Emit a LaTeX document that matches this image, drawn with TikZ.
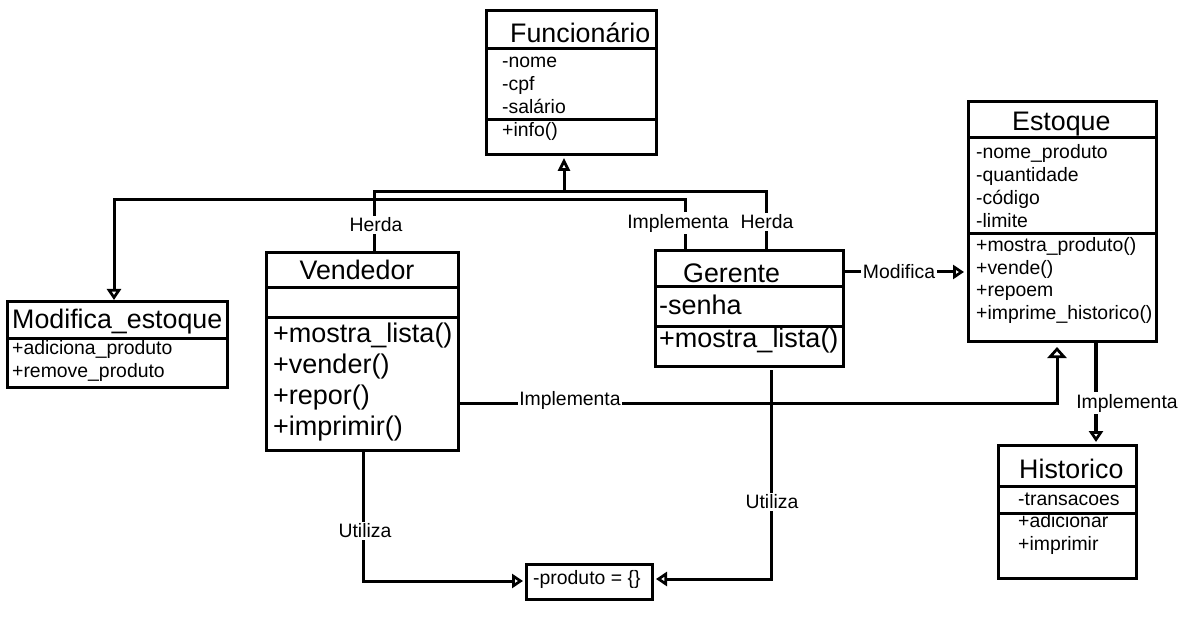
\documentclass[tikz,border=0pt]{standalone}
\usepackage{fontspec}
\setmainfont{Liberation Sans}
\usetikzlibrary{arrows.meta,calc}
\newcommand\fsm{\fontsize{19.4}{22.7}\selectfont}
\newcommand\fbg{\fontsize{27}{31.7}\selectfont}
\newcommand\fti{\fontsize{26.8}{31}\selectfont}
\tikzset{
 opentri/.tip={Triangle[open,length=11pt,width=14pt,line width=2.8pt]},
 opentriw/.tip={Triangle[open,length=11pt,width=19pt,line width=2.8pt]},
 opentrit/.tip={Triangle[open,length=13pt,width=12pt,line width=2.8pt]},
}
\begin{document}
\begin{tikzpicture}[x=1pt,y=-1pt,
 box/.style={draw,line width=3pt,inner sep=0pt,outer sep=0pt,rectangle},
 div/.style={line width=3pt},
 sm/.style={anchor=base west,inner sep=0pt,font=\fsm},
 bg/.style={anchor=base west,inner sep=0pt,font=\fbg},
 ti/.style={anchor=base west,inner sep=0pt,font=\fti},
 conn/.style={line width=3pt},
 lbl/.style={fill=white,inner sep=1.5pt,font=\fsm}]
\useasboundingbox[fill=white] (0,0) rectangle (1186,620);

% ---------- class boxes ----------
\node[box,minimum width=170pt,minimum height=144pt] (func) at (571,83) {};
\node[box,minimum width=220pt,minimum height=85pt] (modest) at (117,344.5) {};
\node[box,minimum width=192pt,minimum height=197pt] (vend) at (362,351.5) {};
\node[box,minimum width=188pt,minimum height=115pt] (ger) at (749,308.5) {};
\node[box,minimum width=188pt,minimum height=239pt] (est) at (1062,221.5) {};
\node[box,minimum width=138pt,minimum height=133pt] (hist) at (1067,511.5) {};
\node[box,minimum width=126pt,minimum height=35pt] (prod) at (589,581.5) {};

% ---------- dividers ----------
\foreach \n/\d in {func/38,func/109,modest/36,vend/35,vend/65,ger/36,ger/76,est/36,est/132,hist/41,hist/68}
  \draw[div] ($(\n.north west)+(0,\d)$) -- ($(\n.north east)+(0,\d)$);

% ---------- texts ----------
\node[ti] (tfunc) at (510,43) {Funcionário};
\foreach \t [count=\i] in {-nome,-cpf,-salário}
  \node[sm] (afunc\i) at (502,{68+23*(\i-1)}) {\t};
\node[sm] (mfunc1) at (502,137) {+info()};

\node[ti] (tmodest) at (12,328) {Modifica\_estoque};
\node[sm] (mmodest1) at (12,354) {+adiciona\_produto};
\node[sm] (mmodest2) at (12,377) {+remove\_produto};

\node[ti,anchor=base] (tvend) at (357,280) {Vendedor};
\foreach \t [count=\i] in {+mostra\_lista(),+vender(),+repor(),+imprimir()}
  \node[bg] (mvend\i) at (273,{342+31*(\i-1)}) {\t};

\node[ti] (tger) at (683,283) {Gerente};
\node[bg] (ager1) at (659,315) {-senha};
\node[bg] (mger1) at (659,348) {+mostra\_lista()};

\node[ti] (test) at (1012,131) {Estoque};
\foreach \t [count=\i] in {-nome\_produto,-quantidade,-código,-limite}
  \node[sm] (aest\i) at (976,{159+23*(\i-1)}) {\t};
\foreach \t [count=\i] in {+mostra\_produto(),+vende(),+repoem,+imprime\_historico()}
  \node[sm] (mest\i) at (976,{252+22.5*(\i-1)}) {\t};

\node[ti] (thist) at (1019,478) {Historico};
\node[sm] (ahist1) at (1018,505) {-transacoes};
\node[sm] (mhist1) at (1018,527) {+adicionar};
\node[sm] (mhist2) at (1018,550) {+imprimir};

\node[sm] (tprod) at (533,584) {-produto = \{\}};

% ---------- connectors ----------
\coordinate (hL) at (374,192);
\coordinate (hR) at (766,192);
\coordinate (hM) at (564,192);
\draw[conn,line join=miter] (vend.north -| hL) -- (hL) -- (hR) -- (ger.north -| hR);
\draw[conn,-{opentrit}] (hM) -- ([yshift=-3pt]func.south -| hM);

\coordinate (iR) at (685,200);
\coordinate (iL) at (114,200);
\draw[conn,-{opentri}] (ger.north -| iR) -- (iR) -- (iL) -- ([yshift=2pt]modest.north -| iL);

\coordinate (mT) at (964,272);
\draw[conn,-{opentri}] (ger.east |- mT) -- (mT);

\coordinate (imR) at (1057,403);
\draw[conn,-{opentriw}] (vend.east |- imR) -- (imR) -- ([yshift=-6pt]est.south -| imR);

\coordinate (eh) at (1096,400);
\draw[line width=4pt,-{opentri}] (est.south -| eh) -- ([yshift=3pt]hist.north -| eh);

\coordinate (uL) at (363,581);
\draw[conn,-{opentri}] (vend.south -| uL) -- (uL) -- ([xshift=-3pt]prod.west |- uL);

\coordinate (uR) at (771,579);
\draw[conn,-{opentri}] ([yshift=-4pt]ger.south -| uR) -- (uR) -- ([xshift=4pt]prod.east |- uR);

% ---------- connector labels ----------
\node[lbl] (lh1) at (376,225) {Herda};
\node[lbl] (lh2) at (767,222) {Herda};
\node[lbl] (li1) at (678,223) {Implementa};
\node[lbl] (lmod) at (899,272) {Modifica};
\node[lbl] (li2) at (570,400) {Implementa};
\node[lbl] (li3) at (1127,403) {Implementa};
\node[lbl] (lu1) at (365,531) {Utiliza};
\node[lbl] (lu2) at (772,502) {Utiliza};
\end{tikzpicture}
\end{document}
